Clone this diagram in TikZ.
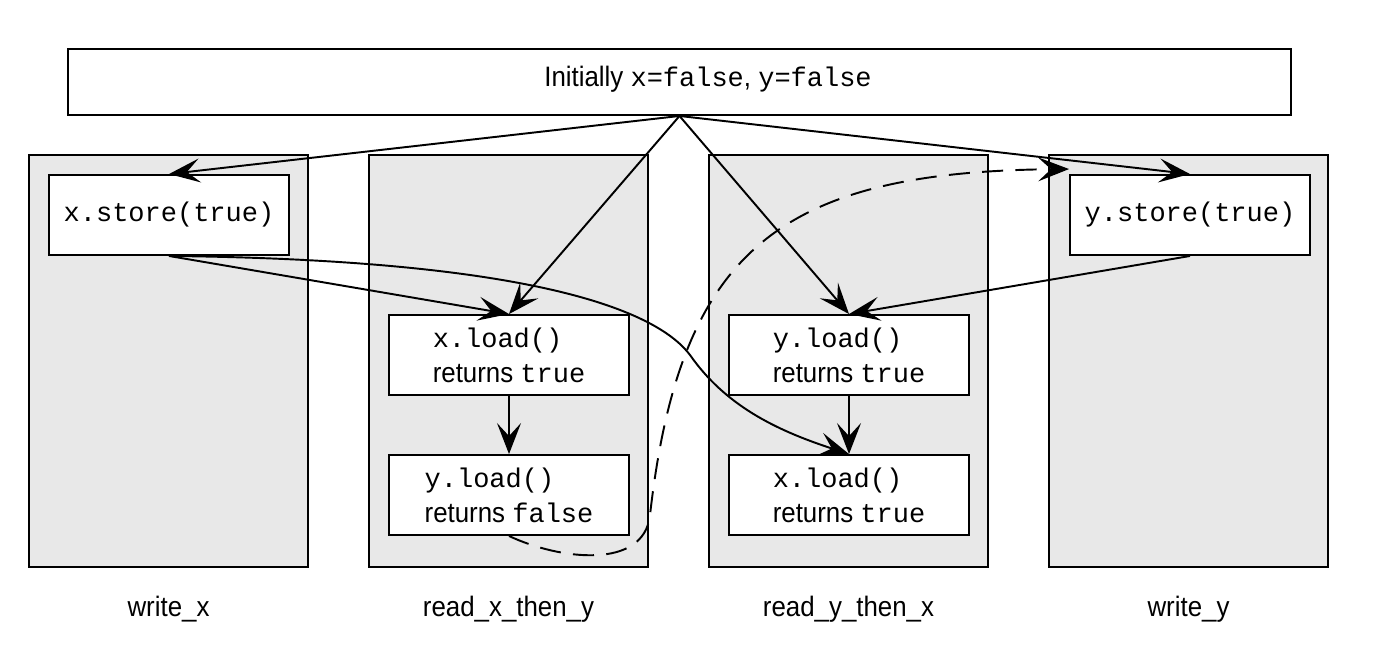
\documentclass[tikz,border=0pt]{standalone}
\usepackage{fontspec}
\setmainfont{Liberation Sans}[FakeStretch=0.92]
\setmonofont{Liberation Mono}[Scale=0.96]
\usetikzlibrary{arrows.meta}

\begin{document}
\begin{tikzpicture}[>={Stealth[length=6.2mm, width=4.8mm, inset=2.6mm]}, line width=1.1pt,
    font=\fontsize{16}{20}\selectfont,
    hilo/.style={draw, fill=black!9, minimum width=5.58cm, minimum height=8.24cm},
    op/.style={draw, fill=white, minimum width=4.8cm, minimum height=1.6cm, align=left}]
    \useasboundingbox (0,0) rectangle (27.52,-13.28);

    % estado inicial
    \node[draw, minimum width=24.46cm, minimum height=1.32cm] (init) at (13.59,-1.64) {};
    \node[anchor=base] (inittxt) at (14.16,-1.72) {Initially \texttt{x=false}, \texttt{y=false}};

    % hilos (fondo gris)
    \node[hilo] (wx) at (3.37,-7.22) {};
    \node[hilo] (rxy) at (10.17,-7.22) {};
    \node[hilo] (ryx) at (16.97,-7.22) {};
    \node[hilo] (wy) at (23.77,-7.22) {};

    % nombres de los hilos
    \node[anchor=base] (lwx) at (3.37,-12.32) {write\_x};
    \node[anchor=base] (lrxy) at (10.17,-12.32) {read\_x\_then\_y};
    \node[anchor=base] (lryx) at (16.97,-12.32) {read\_y\_then\_x};
    \node[anchor=base] (lwy) at (23.77,-12.32) {write\_y};

    % operaciones
    \node[op] (xs) at (3.38,-4.3) {\texttt{x.store(true)}};
    \node[op] (ys) at (23.8,-4.3) {\texttt{y.store(true)}};
    \node[op] (xl1) at (10.18,-7.1) {\texttt{x.load()}\\returns \texttt{true}};
    \node[op] (yl1) at (10.18,-9.9) {\texttt{y.load()}\\returns \texttt{false}};
    \node[op] (yl2) at (16.98,-7.1) {\texttt{y.load()}\\returns \texttt{true}};
    \node[op] (xl2) at (16.98,-9.9) {\texttt{x.load()}\\returns \texttt{true}};

    % desde el estado inicial
    \draw[->] (init.south) -- (xs.north);
    \draw[->] (init.south) -- (xl1.north);
    \draw[->] (init.south) -- (yl2.north);
    \draw[->] (init.south) -- (ys.north);

    % stores y orden dentro de cada hilo
    \draw[->] (xs.south) -- (xl1.north);
    \draw[->] (ys.south) -- (yl2.north);
    \draw[->] (xl1) -- (yl1);
    \draw[->] (yl2) -- (xl2);

    % x.store visto por read_y_then_x
    \draw[->] (xs.south) .. controls (11.0,-5.2) and (13.2,-6.3) .. (13.8,-7.1)
        .. controls (14.5,-8.1) and (15.5,-8.6) .. (xl2.north);

    % y.load devuelve false (discontinua)
    \draw[->, dash pattern=on 12pt off 7pt] (yl1.south)
        .. controls (11.2,-11.2) and (12.88,-11.4) .. (13.0,-10.3)
        .. controls (13.6,-5.0) and (15.6,-3.44) .. ([yshift=1mm]ys.north west);
\end{tikzpicture}
\end{document}
